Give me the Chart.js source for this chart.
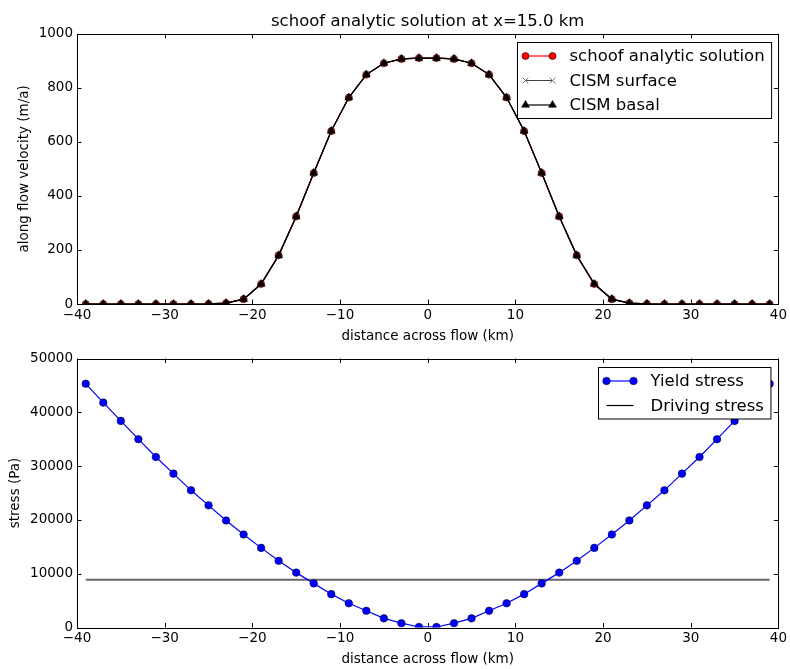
<!DOCTYPE html>
<html>
<head>
<meta charset="utf-8">
<script src="https://cdn.jsdelivr.net/npm/chart.js@4"></script>
<style>
  body { margin: 0; background: #fff; }
  canvas { position: absolute; left: 0; }
</style>
</head>
<body>
<canvas id="velocityChart" width="790" height="346" style="top:0"></canvas>
<canvas id="stressChart" width="790" height="323" style="top:346px"></canvas>
<script>
// distance across flow (km)
var distance = [-39, -37, -35, -33, -31, -29, -27, -25, -23, -21, -19, -17, -15, -13, -11, -9, -7, -5, -3, -1,
  1, 3, 5, 7, 9, 11, 13, 15, 17, 19, 21, 23, 25, 27, 29, 31, 33, 35, 37, 39];

// along flow velocity (m/a)
var schoofVelocity = [0, 0, 0, 0, 0, 0, 0, 0.5, 3, 18, 74, 180, 324, 485, 640, 764, 849, 891, 907, 910,
  910, 907, 891, 849, 764, 640, 485, 324, 180, 74, 18, 3, 0.5, 0, 0, 0, 0, 0, 0, 0];
var cismSurface = [0, 0, 0, 0, 0, 0, 0, 0.5, 3, 18, 74, 180, 324, 485, 640, 764, 849, 891, 907, 910,
  910, 907, 891, 849, 764, 640, 485, 324, 180, 74, 18, 3, 0.5, 0, 0, 0, 0, 0, 0, 0];
var cismBasal = [0, 0, 0, 0, 0, 0, 0, 0.5, 3, 18, 74, 180, 324, 485, 640, 764, 849, 891, 907, 910,
  910, 907, 891, 849, 764, 640, 485, 324, 180, 74, 18, 3, 0.5, 0, 0, 0, 0, 0, 0, 0];

// stress (Pa)
var yieldStress = [45300, 41800, 38400, 35000, 31700, 28600, 25500, 22700, 19900, 17300, 14800, 12400, 10200, 8200, 6200, 4500, 3100, 1700, 800, 100,
  100, 800, 1700, 3100, 4500, 6200, 8200, 10200, 12400, 14800, 17300, 19900, 22700, 25500, 28600, 31700, 35000, 38400, 41800, 45300];
var drivingStressX = [-39, 39];
var drivingStress = [8870, 8870];

var xTicks = [-40, -30, -20, -10, 0, 10, 20, 30, 40];
var velocityTicks = [0, 200, 400, 600, 800, 1000];
var stressTicks = [0, 10000, 20000, 30000, 40000, 50000];

var FONT = "'DejaVu Sans', sans-serif";

function pairs(xs, ys) {
  return xs.map(function (x, i) { return { x: x, y: ys[i] }; });
}

function minusLabel(v) {
  return v < 0 ? "\u2212" + Math.abs(v) : String(v);
}

// matplotlib-like box: frame, inward ticks on all sides, legend in the upper right
var mplBox = {
  id: "mplBox",
  afterDraw: function (chart, args, opts) {
    var ctx = chart.ctx;
    var a = chart.chartArea;
    var xs = chart.scales.x;
    var ys = chart.scales.y;
    ctx.save();
    ctx.strokeStyle = "#000";
    ctx.lineWidth = 1;
    ctx.beginPath();
    xs.ticks.forEach(function (t) {
      var px = Math.round(xs.getPixelForValue(t.value)) + 0.5;
      ctx.moveTo(px, a.bottom); ctx.lineTo(px, a.bottom - 4.5);
      ctx.moveTo(px, a.top); ctx.lineTo(px, a.top + 4.5);
    });
    ys.ticks.forEach(function (t) {
      var py = Math.round(ys.getPixelForValue(t.value)) + 0.5;
      ctx.moveTo(a.left, py); ctx.lineTo(a.left + 4.5, py);
      ctx.moveTo(a.right, py); ctx.lineTo(a.right - 4.5, py);
    });
    ctx.stroke();
    ctx.strokeRect(Math.round(a.left) + 0.5, Math.round(a.top) + 0.5,
      Math.round(a.right - a.left), Math.round(a.bottom - a.top));

    // legend
    var sets = chart.data.datasets;
    ctx.font = "16.5px " + FONT;
    var textW = 0;
    sets.forEach(function (d) { textW = Math.max(textW, ctx.measureText(d.label).width); });
    var boxW = 8 + 27 + 17 + textW + 7;
    var rowH = 24.5;
    var boxH = 13.5 * 2 + rowH * (sets.length - 1);
    var bx = Math.round(a.right - 7.5 - boxW) + 0.5;
    var by = Math.round(a.top + 8) + 0.5;
    ctx.fillStyle = "#fff";
    ctx.fillRect(bx, by, boxW, boxH);
    ctx.strokeStyle = "#000";
    ctx.lineWidth = 1;
    ctx.strokeRect(bx, by, boxW, boxH);
    sets.forEach(function (d, i) {
      var y = by + 13.5 + i * rowH;
      var x0 = bx + 8, x1 = x0 + 27;
      ctx.strokeStyle = d.legendColor || d.borderColor;
      ctx.lineWidth = d.legendWidth || d.borderWidth;
      ctx.beginPath(); ctx.moveTo(x0, y); ctx.lineTo(x1, y); ctx.stroke();
      if (d.pointRadius > 0) {
        [x0, x1].forEach(function (px) {
          ctx.fillStyle = d.pointBackgroundColor;
          ctx.strokeStyle = d.pointBorderColor;
          ctx.lineWidth = d.pointBorderWidth;
          Chart.helpers.drawPoint(ctx, {
            pointStyle: d.pointStyle, radius: d.pointRadius,
            borderWidth: d.pointBorderWidth, rotation: 0
          }, px, y);
        });
      }
      ctx.fillStyle = "#000";
      ctx.textAlign = "left";
      ctx.textBaseline = "middle";
      ctx.fillText(d.label, x1 + 17, y + 1);
    });
    ctx.restore();
  }
};

function buildOptions(cfg) {
  return {
    responsive: false,
    animation: false,
    devicePixelRatio: 1,
    layout: { padding: { top: cfg.padTop, right: 10, left: 0, bottom: 0 } },
    plugins: {
      legend: { display: false },
      tooltip: { enabled: false },
      title: cfg.title ? {
        display: true,
        text: cfg.title,
        fullSize: false,
        color: "#000",
        font: { family: FONT, size: 16.5, weight: "normal" },
        padding: { top: 12, bottom: 2 }
      } : { display: false }
    },
    scales: {
      x: {
        type: "linear",
        min: -40, max: 40,
        grid: { display: false, drawTicks: false },
        border: { display: false },
        afterBuildTicks: function (s) { s.ticks = xTicks.map(function (v) { return { value: v }; }); },
        afterFit: function (s) { s.height = cfg.xHeight; },
        ticks: {
          padding: 3, color: "#000", maxRotation: 0, autoSkip: false,
          font: { family: FONT, size: 13.5 },
          callback: minusLabel
        },
        title: {
          display: true, text: "distance across flow (km)", color: "#000",
          font: { family: FONT, size: 13.5 }, padding: { top: 0, bottom: 1.5 }
        }
      },
      y: {
        min: 0, max: cfg.yMax,
        grid: { display: false, drawTicks: false },
        border: { display: false },
        afterBuildTicks: function (s) { s.ticks = cfg.yTicks.map(function (v) { return { value: v }; }); },
        afterFit: function (s) { s.width = 77; },
        ticks: {
          padding: 4, color: "#000", autoSkip: false,
          font: { family: FONT, size: 13.5 },
          callback: minusLabel
        },
        title: {
          display: true, text: cfg.yLabel, color: "#000",
          font: { family: FONT, size: 13.5 }, padding: { top: cfg.yTitlePad, bottom: 0 }
        }
      }
    }
  };
}

new Chart("velocityChart", {
  type: "line",
  data: {
    datasets: [{
      label: "schoof analytic solution",
      data: pairs(distance, schoofVelocity),
      borderColor: "#ff0000", borderWidth: 1.2,
      pointStyle: "circle", pointRadius: 3.6,
      pointBackgroundColor: "#ff0000", pointBorderColor: "#000", pointBorderWidth: 0.5,
      tension: 0, order: 3
    }, {
      label: "CISM surface",
      data: pairs(distance, cismSurface),
      borderColor: "#000", borderWidth: 1.2,
      legendColor: "#444", legendWidth: 1,
      pointStyle: "crossRot", pointRadius: 4,
      pointBackgroundColor: "#666", pointBorderColor: "#777", pointBorderWidth: 1,
      tension: 0, order: 2
    }, {
      label: "CISM basal",
      data: pairs(distance, cismBasal),
      borderColor: "#000", borderWidth: 1.2,
      pointStyle: "triangle", pointRadius: 4.6,
      pointBackgroundColor: "#000", pointBorderColor: "#000", pointBorderWidth: 0.5,
      tension: 0, order: 1
    }]
  },
  options: buildOptions({
    title: "schoof analytic solution at x=15.0 km",
    padTop: 0, xHeight: 42, yMax: 1000, yTicks: velocityTicks,
    yLabel: "along flow velocity (m/a)", yTitlePad: 16
  }),
  plugins: [mplBox]
});

new Chart("stressChart", {
  type: "line",
  data: {
    datasets: [{
      label: "Yield stress",
      data: pairs(distance, yieldStress),
      borderColor: "#0000ff", borderWidth: 1.2,
      pointStyle: "circle", pointRadius: 3.8,
      pointBackgroundColor: "#0000ff", pointBorderColor: "#000", pointBorderWidth: 0.5,
      tension: 0
    }, {
      label: "Driving stress",
      data: pairs(drivingStressX, drivingStress),
      borderColor: "#666666", borderWidth: 2,
      legendColor: "#000", legendWidth: 1.2,
      pointRadius: 0,
      tension: 0
    }]
  },
  options: buildOptions({
    title: null,
    padTop: 12.5, xHeight: 41.5, yMax: 50000, yTicks: stressTicks,
    yLabel: "stress (Pa)", yTitlePad: 7
  }),
  plugins: [mplBox]
});
</script>
</body>
</html>
